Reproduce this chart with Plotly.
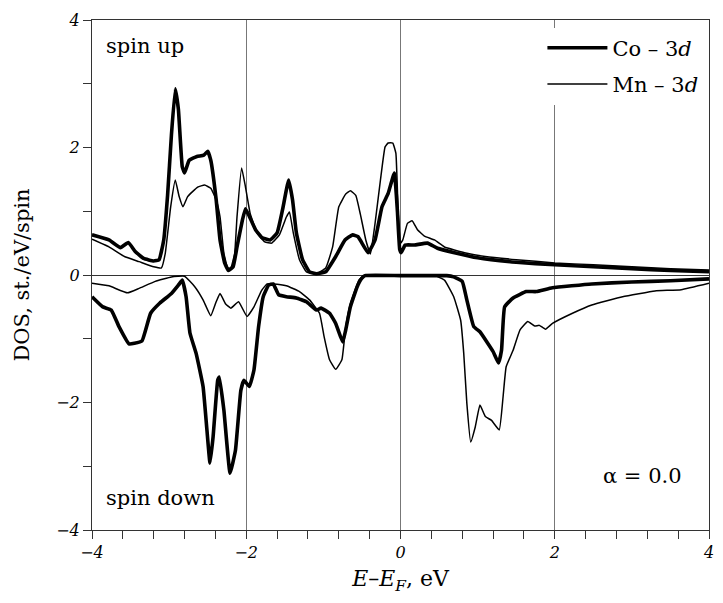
import plotly.graph_objects as go

# ---- data ----
co_up_x = [-4.00,-3.78,-3.63,-3.53,-3.44,-3.33,-3.20,-3.13,-3.07,-3.02,-2.97,-2.92,-2.88,-2.83,-2.80,-2.74,-2.64,-2.55,-2.50,-2.46,-2.39,-2.34,-2.28,-2.23,-2.17,-2.12,-2.05,-2.01,-1.96,-1.88,-1.80,-1.69,-1.60,-1.53,-1.45,-1.40,-1.35,-1.27,-1.18,-1.09,-0.97,-0.84,-0.72,-0.62,-0.55,-0.42,-0.33,-0.24,-0.16,-0.08,-0.04,-0.01,0.01,0.06,0.18,0.35,0.48,0.70,1.00,1.50,2.00,2.50,3.00,3.50,4.00]
co_up_y = [0.63,0.55,0.43,0.51,0.37,0.26,0.22,0.24,0.55,1.25,2.20,2.92,2.60,1.70,1.60,1.80,1.86,1.88,1.94,1.80,1.18,0.55,0.19,0.07,0.13,0.44,0.86,1.04,0.92,0.71,0.59,0.55,0.66,1.02,1.49,1.18,0.66,0.24,0.05,0.02,0.05,0.29,0.55,0.63,0.60,0.35,0.55,1.07,1.28,1.60,1.00,0.40,0.35,0.47,0.47,0.50,0.42,0.35,0.27,0.20,0.16,0.13,0.10,0.07,0.05]

mn_up_x = [-4.00,-3.78,-3.58,-3.39,-3.20,-3.10,-3.05,-2.98,-2.92,-2.87,-2.82,-2.76,-2.63,-2.54,-2.46,-2.39,-2.34,-2.29,-2.24,-2.20,-2.15,-2.12,-2.06,-2.01,-1.95,-1.86,-1.76,-1.67,-1.57,-1.48,-1.44,-1.39,-1.31,-1.22,-1.09,-0.97,-0.88,-0.80,-0.71,-0.65,-0.58,-0.52,-0.45,-0.39,-0.33,-0.26,-0.20,-0.16,-0.10,-0.06,-0.03,0.00,0.03,0.09,0.15,0.22,0.31,0.44,0.57,0.83,1.10,1.50,2.00,2.50,3.00,3.50,4.00]
mn_up_y = [0.56,0.44,0.29,0.21,0.13,0.11,0.34,1.07,1.49,1.23,1.07,1.23,1.38,1.41,1.36,1.18,0.91,0.34,0.11,0.11,0.34,0.91,1.68,1.38,0.97,0.66,0.52,0.50,0.63,0.91,0.99,0.66,0.24,0.05,0.02,0.11,0.44,1.07,1.27,1.32,1.25,0.95,0.55,0.33,0.81,1.49,2.01,2.07,2.07,1.91,0.97,0.50,0.55,0.81,0.85,0.71,0.61,0.55,0.44,0.35,0.29,0.24,0.19,0.16,0.13,0.10,0.08]

co_dn_x = [-4.00,-3.86,-3.75,-3.65,-3.52,-3.45,-3.35,-3.24,-3.12,-2.97,-2.88,-2.83,-2.78,-2.73,-2.65,-2.56,-2.51,-2.47,-2.43,-2.37,-2.35,-2.29,-2.21,-2.14,-2.07,-2.03,-1.96,-1.90,-1.84,-1.78,-1.71,-1.65,-1.58,-1.48,-1.35,-1.22,-1.09,-1.03,-0.92,-0.84,-0.75,-0.71,-0.65,-0.56,-0.50,-0.46,0.00,0.48,0.60,0.69,0.80,0.86,0.95,1.03,1.12,1.20,1.27,1.31,1.35,1.46,1.63,1.76,1.97,2.48,3.00,3.50,4.00]
co_dn_y = [-0.34,-0.50,-0.55,-0.81,-1.08,-1.07,-1.03,-0.60,-0.44,-0.29,-0.16,-0.08,-0.34,-0.91,-1.23,-1.75,-2.43,-2.95,-2.54,-1.65,-1.60,-2.12,-3.11,-2.75,-1.81,-1.65,-1.75,-1.49,-0.81,-0.34,-0.16,-0.14,-0.31,-0.34,-0.36,-0.42,-0.55,-0.52,-0.60,-0.76,-1.05,-0.86,-0.50,-0.18,-0.05,-0.01,-0.01,-0.01,-0.01,-0.03,-0.10,-0.39,-0.81,-0.89,-1.05,-1.20,-1.38,-1.18,-0.50,-0.36,-0.26,-0.26,-0.20,-0.14,-0.11,-0.09,-0.06]

mn_dn_x = [-4.00,-3.78,-3.54,-3.39,-3.18,-2.97,-2.80,-2.67,-2.56,-2.46,-2.39,-2.34,-2.27,-2.20,-2.10,-1.99,-1.90,-1.80,-1.73,-1.65,-1.48,-1.31,-1.18,-1.05,-0.99,-0.92,-0.84,-0.76,-0.71,-0.65,-0.54,-0.48,0.00,0.44,0.57,0.69,0.78,0.82,0.86,0.91,0.97,1.03,1.10,1.18,1.28,1.33,1.37,1.46,1.55,1.65,1.74,1.80,1.88,1.97,2.23,2.48,2.88,3.30,3.64,4.00]
mn_dn_y = [-0.13,-0.17,-0.28,-0.21,-0.10,-0.03,-0.02,-0.18,-0.39,-0.64,-0.42,-0.29,-0.45,-0.52,-0.42,-0.65,-0.50,-0.24,-0.14,-0.14,-0.17,-0.26,-0.39,-0.60,-0.97,-1.33,-1.48,-1.33,-0.81,-0.45,-0.08,-0.01,-0.01,-0.01,-0.08,-0.34,-0.71,-1.23,-2.01,-2.62,-2.38,-2.04,-2.22,-2.28,-2.43,-1.91,-1.44,-1.18,-0.86,-0.73,-0.80,-0.79,-0.85,-0.76,-0.60,-0.47,-0.34,-0.25,-0.23,-0.13]

x_tick_vals = [-4, -2, 0, 2, 4]
y_tick_vals = [-4, -2, 0, 2, 4]

FONT = "DejaVu Serif"
THICK = 3.6
THIN = 1.5
SMOOTH = 0.35

fig = go.Figure()
fig.add_trace(go.Scatter(x=co_up_x, y=co_up_y, mode="lines", name="Co – 3<i>d</i>",
                         legendgroup="co", line=dict(color="black", width=THICK, shape="spline", smoothing=SMOOTH)))
fig.add_trace(go.Scatter(x=mn_up_x, y=mn_up_y, mode="lines", name="Mn – 3<i>d</i>",
                         legendgroup="mn", line=dict(color="black", width=THIN, shape="spline", smoothing=SMOOTH)))
fig.add_trace(go.Scatter(x=co_dn_x, y=co_dn_y, mode="lines", showlegend=False,
                         legendgroup="co", line=dict(color="black", width=THICK, shape="spline", smoothing=SMOOTH)))
fig.add_trace(go.Scatter(x=mn_dn_x, y=mn_dn_y, mode="lines", showlegend=False,
                         legendgroup="mn", line=dict(color="black", width=THIN, shape="spline", smoothing=SMOOTH)))

axis_common = dict(showline=True, linecolor="#333", linewidth=1, mirror=True,
                   ticks="outside", tickcolor="#333", ticklen=8, tickwidth=1, automargin=False,
                   ticklabeloverflow="allow",
                   tickfont=dict(family=FONT, size=16, style="italic", color="black"))

fig.update_xaxes(range=[-4, 4], tickvals=x_tick_vals, showgrid=True, gridcolor="#777", gridwidth=1,
                 zeroline=False,
                 minor=dict(dtick=0.4, ticks="outside", ticklen=8, tickcolor="#333", showgrid=False),
                 title=dict(text="<i>E</i>–<i>E</i><sub><i>F</i></sub>, eV", font=dict(family=FONT, size=22, color="black"), standoff=15),
                 **axis_common)
fig.update_yaxes(range=[-4, 4], tickvals=y_tick_vals, showgrid=False,
                 zeroline=True, zerolinecolor="#333", zerolinewidth=1,
                 minor=dict(dtick=1, ticks="outside", ticklen=8, tickcolor="#333", showgrid=False),
                 title=dict(text="DOS, st./eV/spin", font=dict(family=FONT, size=21, color="black"), standoff=20),
                 **axis_common)

ann_font = dict(family=FONT, size=21, color="black")
fig.add_annotation(x=-3.84, y=3.6, text="spin up", showarrow=False, xanchor="left", yanchor="middle", font=ann_font)
fig.add_annotation(x=-3.84, y=-3.5, text="spin down", showarrow=False, xanchor="left", yanchor="middle", font=ann_font)
fig.add_annotation(x=2.6, y=-3.15, text="α = 0.0", showarrow=False, xanchor="left", yanchor="middle", font=ann_font)

# the page has an 8px body margin; size the figure so it fits inside the 723x603 window
fig.update_layout(
    width=707, height=587,
    margin=dict(l=84, r=6, t=12, b=65),
    paper_bgcolor="white", plot_bgcolor="white",
    showlegend=True,
    legend=dict(x=0.73, y=0.985, xanchor="left", yanchor="top", bgcolor="white",
                font=dict(family=FONT, size=21, color="black"), tracegroupgap=6,
                itemwidth=60),
)

fig.write_html("out.html")
